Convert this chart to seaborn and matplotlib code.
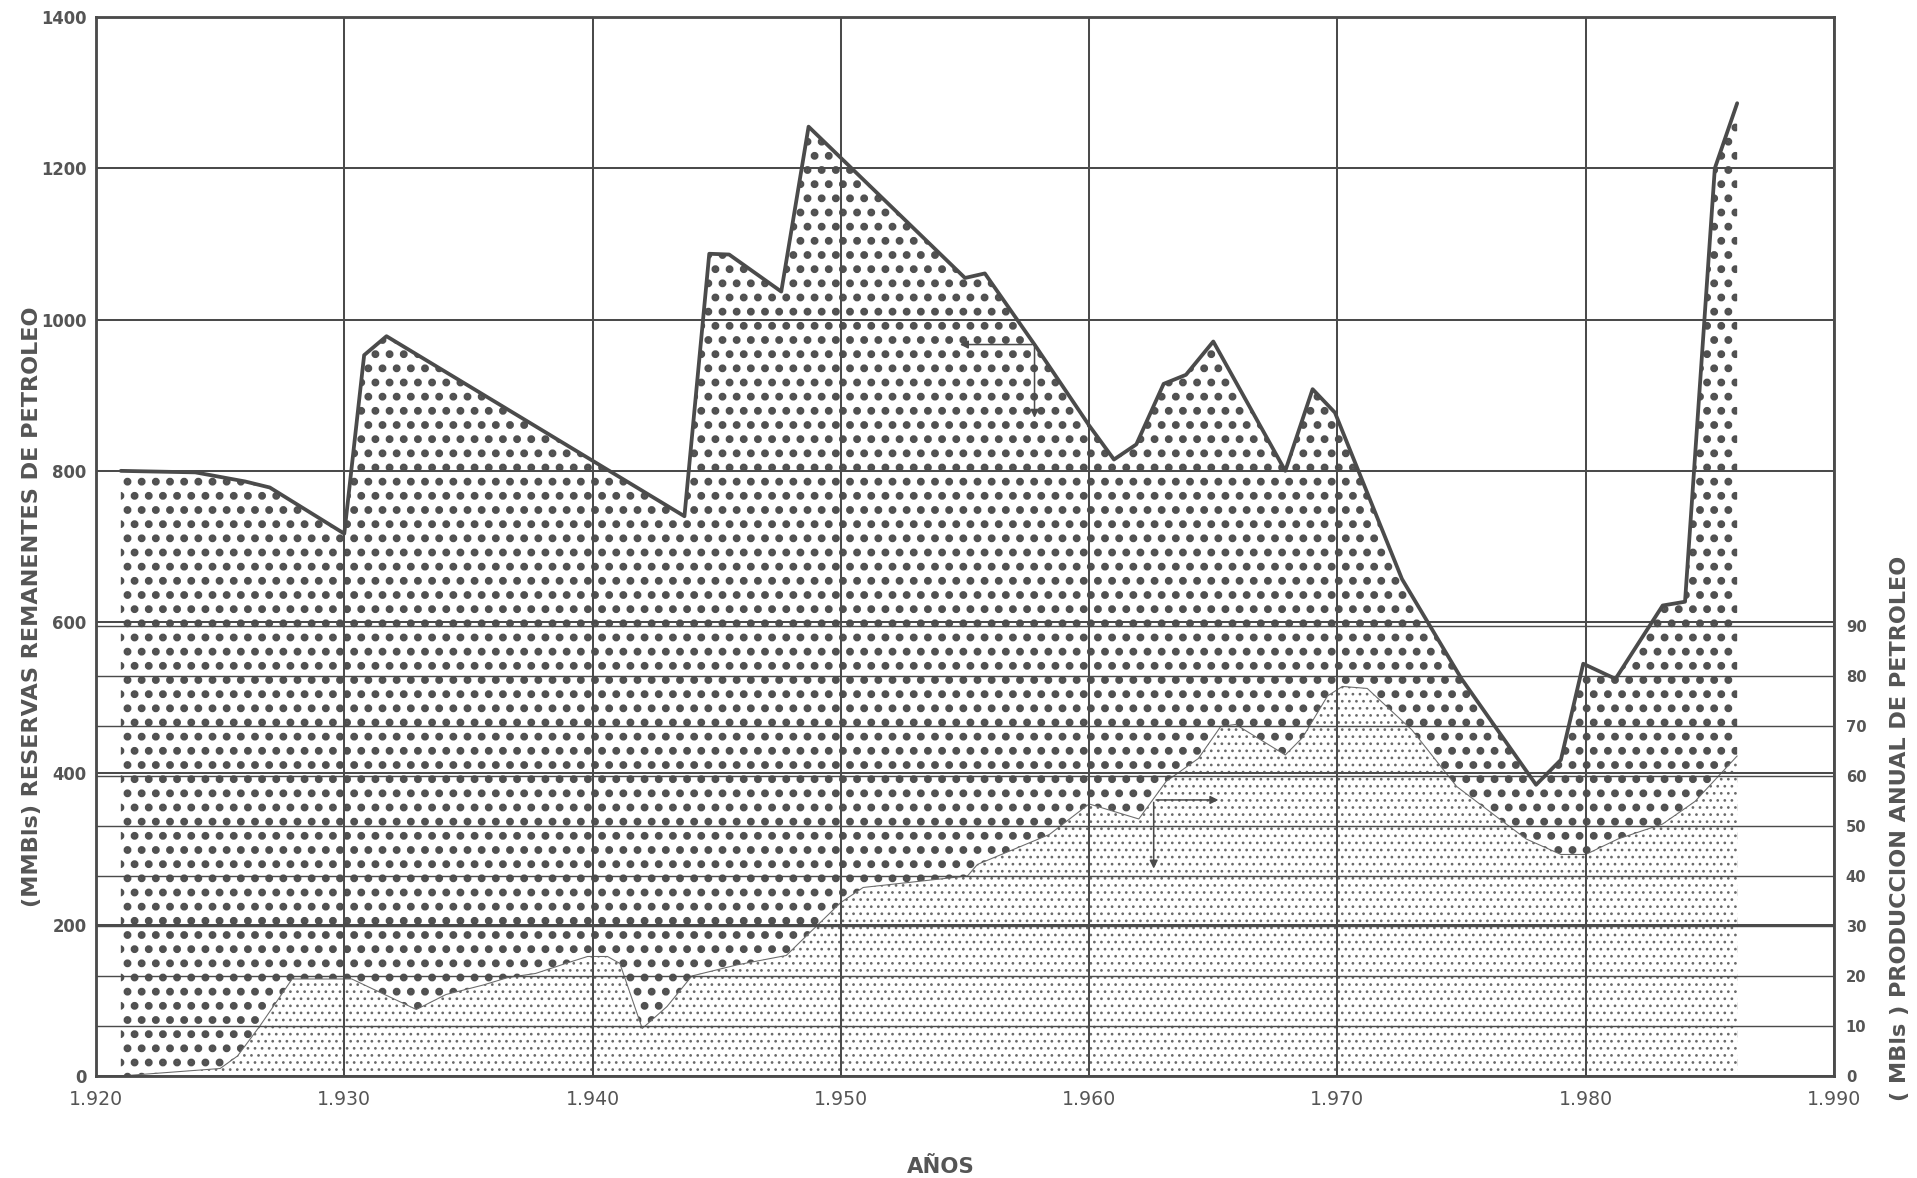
import matplotlib
matplotlib.use("Agg")
import matplotlib as mpl
import matplotlib.pyplot as plt
import seaborn as sns

# remaining oil reserves, MMBls (left axis)
res_years = [1921.0, 1924.0, 1926.0, 1927.0, 1930.0, 1930.8, 1931.7, 1943.7, 1944.7,
             1945.5, 1947.6, 1948.7, 1955.0, 1955.8, 1957.8, 1960.0, 1961.0, 1961.9,
             1963.0, 1963.9, 1965.0, 1967.9, 1969.0, 1969.9, 1972.6, 1975.0, 1978.0,
             1979.0, 1979.9, 1981.2, 1983.1, 1984.0, 1985.2, 1986.1]
reserves = [800, 798, 786, 778, 717, 953, 978, 740, 1087,
            1086, 1037, 1255, 1055, 1061, 967, 860, 815, 835,
            915, 927, 971, 800, 908, 877, 657, 525, 385,
            418, 545, 525, 622, 627, 1200, 1286]

# yearly oil production, MBls (right axis)
prod_years = [1921.0, 1925.0, 1925.7, 1926.6, 1927.9, 1930.3, 1932.9, 1934.1, 1935.6,
              1936.6, 1937.7, 1939.1, 1939.8, 1940.6, 1941.1, 1942.0, 1943.0, 1944.0,
              1945.8, 1947.8, 1950.0, 1950.9, 1955.1, 1955.5, 1958.4, 1960.0, 1962.0,
              1963.1, 1964.4, 1965.3, 1965.9, 1967.9, 1968.6, 1969.6, 1970.2, 1971.2,
              1973.0, 1974.8, 1976.5, 1977.6, 1979.0, 1980.0, 1981.3, 1983.1, 1984.4,
              1986.1]
production = [0, 1.5, 4, 10, 19.4, 19.4, 13.3, 16.3, 18.2,
              19.7, 20.5, 22.8, 23.9, 23.9, 22.5, 9.5, 13.9, 20,
              22.2, 24.1, 34.7, 37.7, 40, 42.3, 48.3, 54.4, 51.4,
              58.9, 63.5, 69.9, 70.3, 64.2, 67.7, 76, 77.9, 77.5,
              69.2, 57.9, 51.5, 47.4, 44.3, 44.3, 47.4, 50.4, 54.9,
              64]

year_ticks = [1920, 1930, 1940, 1950, 1960, 1970, 1980, 1990]
year_labels = ["1.920", "1.930", "1.940", "1.950", "1.960", "1.970", "1.980", "1.990"]
left_ticks = [0, 200, 400, 600, 800, 1000, 1200, 1400]
right_ticks = [0, 10, 20, 30, 40, 50, 60, 70, 80, 90]

sns.set_style("white")
plt.rcParams["font.family"] = ["DejaVu Sans"]

INK = "#4b4b4b"
TXT = "#555555"
DPI = 85
W, H = 1917, 1178

fig = plt.figure(figsize=(W / DPI, H / DPI), dpi=DPI)
rect = [96 / W, 1 - 1076 / H, (1834 - 96) / W, (1076 - 17) / H]
ax = fig.add_axes(rect)
ax2 = ax.twinx()
top = fig.add_axes(rect, sharex=ax, sharey=ax)
top.patch.set_visible(False)

ax.set_xlim(1920, 1990)
ax.set_ylim(0, 1400)
ax2.set_ylim(0, 1400 * 90 / 595)

# big dots: reserves
with mpl.rc_context({"hatch.linewidth": 4.2}):
    big = ax.fill_between(res_years, 0, reserves, facecolor="white",
                          edgecolor="#505050", hatch=".", linewidth=0)
# fine dots: production
with mpl.rc_context({"hatch.linewidth": 1.1}):
    small = ax2.fill_between(prod_years, 0, production, facecolor="white",
                             edgecolor="#6a6a6a", hatch="..", linewidth=0, zorder=0.3)
for coll, hlw in ((big, 4.2), (small, 1.1)):
    if hasattr(coll, "set_hatch_linewidth"):
        coll.set_hatch_linewidth(hlw)

sns.lineplot(x=prod_years, y=production, ax=ax2, color="#6a6a6a", linewidth=0.9,
             estimator=None, sort=False)

# grids
ax.grid(False)
ax2.set_yticks(right_ticks)
ax2.set_axisbelow(False)
ax2.grid(axis="y", color=INK, linewidth=1.2)
ax2.grid(axis="x", visible=False)

ax.set_xticks(year_ticks)
ax.set_xticklabels(year_labels)
ax.set_yticks(left_ticks)
top.grid(True, color=INK, linewidth=1.7)
top.tick_params(left=False, bottom=False, labelleft=False, labelbottom=False)

sns.lineplot(x=res_years, y=reserves, ax=top, color=INK, linewidth=3.2,
             estimator=None, sort=False)

for a in (ax, ax2):
    for s in a.spines.values():
        s.set_visible(False)
for s in top.spines.values():
    s.set_visible(True)
    s.set_color(INK)
    s.set_linewidth(2.4)

ax.tick_params(axis="y", length=0, pad=8, labelsize=14, labelcolor=TXT)
ax.tick_params(axis="x", length=0, pad=12, labelsize=16, labelcolor=TXT)
ax2.tick_params(axis="y", length=0, pad=10, labelsize=12.5, labelcolor=TXT)
for lab in ax.get_yticklabels() + ax2.get_yticklabels():
    lab.set_fontweight("bold")
ax.set_xlabel("")
ax.set_ylabel("")
ax2.set_ylabel("")
top.set_xlabel("")
top.set_ylabel("")

# axis key arrows
arrow = dict(arrowstyle="-|>", color=INK, linewidth=1.3, mutation_scale=14)
top.annotate("", xy=(1954.7, 967), xytext=(1957.8, 967), arrowprops=arrow)
top.annotate("", xy=(1957.8, 867), xytext=(1957.8, 967), arrowprops=arrow)
ax2.annotate("", xy=(1965.3, 55.2), xytext=(1962.6, 55.2), arrowprops=arrow)
ax2.annotate("", xy=(1962.6, 41.0), xytext=(1962.6, 55.2), arrowprops=arrow)

fig.text(32 / W, 1 - 607 / H, "(MMBls) RESERVAS REMANENTES DE PETROLEO",
         rotation=90, ha="center", va="center", fontsize=19, fontweight="bold",
         color=TXT)
fig.text(1900 / W, 1 - 828 / H, "( MBls ) PRODUCCION ANUAL DE PETROLEO",
         rotation=90, ha="center", va="center", fontsize=19, fontweight="bold",
         color=TXT)
fig.text(941 / W, 1 - 1167 / H, "AÑOS", ha="center", va="center",
         fontsize=18, fontweight="bold", color=TXT)

fig.savefig("out.png", dpi=DPI)
